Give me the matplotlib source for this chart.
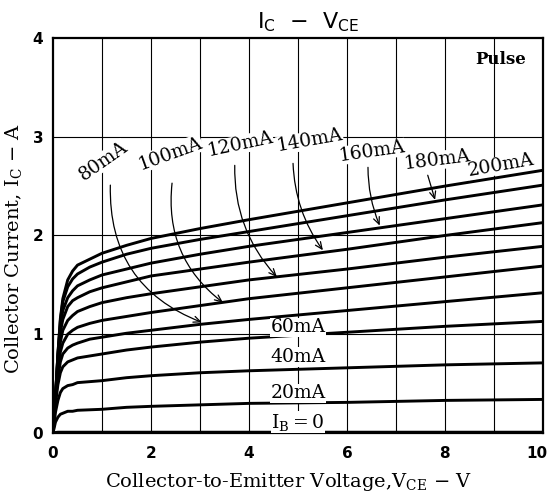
import matplotlib
matplotlib.use("Agg")
import matplotlib.pyplot as plt
import matplotlib.transforms as mtransforms

plt.rcParams['mathtext.fontset'] = 'dejavuserif'

# ---------------- data ----------------
vce = [0, 0.05, 0.1, 0.15, 0.2, 0.3, 0.4, 0.5, 0.75, 1, 1.5, 2, 3, 4, 6, 8, 10]

ic_200 = [0, 0.35, 0.80, 1.16, 1.36, 1.55, 1.64, 1.70, 1.76, 1.82, 1.90, 1.97, 2.07, 2.16, 2.33, 2.50, 2.66]
ic_180 = [0, 0.37, 0.80, 1.14, 1.33, 1.48, 1.56, 1.61, 1.68, 1.73, 1.81, 1.87, 1.96, 2.04, 2.20, 2.36, 2.51]
ic_160 = [0, 0.37, 0.79, 1.08, 1.24, 1.37, 1.44, 1.49, 1.55, 1.60, 1.66, 1.72, 1.81, 1.89, 2.03, 2.17, 2.31]
ic_140 = [0, 0.37, 0.75, 1.02, 1.15, 1.28, 1.34, 1.37, 1.43, 1.47, 1.53, 1.59, 1.66, 1.73, 1.86, 2.00, 2.13]
ic_120 = [0, 0.36, 0.70, 0.92, 1.04, 1.14, 1.19, 1.23, 1.28, 1.32, 1.37, 1.41, 1.48, 1.55, 1.66, 1.78, 1.89]
ic_100 = [0, 0.34, 0.63, 0.82, 0.91, 1.00, 1.04, 1.07, 1.11, 1.14, 1.18, 1.22, 1.29, 1.36, 1.47, 1.58, 1.69]
ic_80 = [0, 0.32, 0.56, 0.72, 0.80, 0.86, 0.89, 0.91, 0.95, 0.97, 1.01, 1.04, 1.10, 1.15, 1.24, 1.33, 1.42]
ic_60 = [0, 0.30, 0.49, 0.61, 0.67, 0.72, 0.74, 0.76, 0.78, 0.80, 0.84, 0.87, 0.92, 0.96, 1.02, 1.08, 1.13]
ic_40 = [0, 0.21, 0.33, 0.41, 0.45, 0.48, 0.49, 0.51, 0.52, 0.53, 0.56, 0.58, 0.61, 0.63, 0.66, 0.69, 0.71]
ic_20 = [0, 0.11, 0.16, 0.19, 0.20, 0.22, 0.22, 0.23, 0.235, 0.24, 0.26, 0.27, 0.285, 0.30, 0.31, 0.33, 0.34]
ic_0 = [0, 0.005, 0.008, 0.008, 0.008, 0.008, 0.008, 0.008, 0.008, 0.008, 0.008, 0.008, 0.008, 0.008, 0.008, 0.008, 0.008]

curves = [ic_0, ic_20, ic_40, ic_60, ic_80, ic_100, ic_120, ic_140, ic_160, ic_180, ic_200]

# labels with arrows
arrow_labels = ["80mA", "100mA", "120mA", "140mA", "160mA", "180mA"]
arrow_label_v = [1.02, 2.39, 3.82, 5.24, 6.51, 7.84]
arrow_label_ic = [2.75, 2.83, 2.92, 2.96, 2.85, 2.76]
arrow_label_rot = [35, 20, 12, 10, 8, 7]
arrow_start_v = [1.17, 2.43, 3.71, 4.90, 6.43, 7.65]
arrow_start_ic = [2.51, 2.53, 2.71, 2.73, 2.69, 2.61]
arrow_end_v = [3.04, 3.47, 4.57, 5.51, 6.67, 7.80]
arrow_end_ic = [1.12, 1.32, 1.58, 1.85, 2.10, 2.36]
arrow_rad = [0.35, 0.28, 0.2, 0.15, 0.1, 0.0]

top_label = "200mA"
top_label_pos = (9.14, 2.71)
top_label_rot = 10

inline_labels = ["60mA", "40mA", "20mA", r"I$_{\rm B}$$=$0"]
inline_v = [5.0, 5.0, 5.0, 5.0]
inline_ic = [1.07, 0.77, 0.40, 0.11]

x_ticks = [0, 2, 4, 6, 8, 10]
y_ticks = [0, 1, 2, 3, 4]

# ---------------- figure ----------------
fig = plt.figure(figsize=(5.5, 4.93), dpi=100)
ax = fig.add_axes([0.0964, 0.1217, 0.8906, 0.8013])

ax.set_xlim(0, 10)
ax.set_ylim(0, 4)

# grid every 1 V and 1 A
for v in range(1, 10):
    ax.axvline(v, color='black', lw=0.8, zorder=1)
for i in range(1, 4):
    ax.axhline(i, color='black', lw=0.8, zorder=1)

for c in curves:
    ax.plot(vce, c, color='black', lw=2.1, solid_capstyle='round', solid_joinstyle='round', zorder=3)

serif = 'DejaVu Serif'
lab_fs = 13.5

for t, x, y, r in zip(arrow_labels, arrow_label_v, arrow_label_ic, arrow_label_rot):
    ax.text(x, y, t, rotation=r, rotation_mode='anchor', ha='center', va='center',
            fontsize=lab_fs, family=serif, zorder=5,
            bbox=dict(fc='white', ec='none', pad=0.2))
ax.text(top_label_pos[0], top_label_pos[1], top_label, rotation=top_label_rot,
        rotation_mode='anchor', ha='center', va='center', fontsize=lab_fs, family=serif,
        zorder=5, bbox=dict(fc='white', ec='none', pad=0.2))

for sv, si, ev, ei, rd in zip(arrow_start_v, arrow_start_ic, arrow_end_v, arrow_end_ic, arrow_rad):
    ax.annotate('', xy=(ev, ei), xytext=(sv, si),
                arrowprops=dict(arrowstyle='->,head_length=0.5,head_width=0.22',
                                connectionstyle=f'arc3,rad={rd}', lw=0.9, color='black',
                                shrinkA=0, shrinkB=0), zorder=4)

for t, x, y in zip(inline_labels, inline_v, inline_ic):
    ax.text(x, y, t, ha='center', va='center', fontsize=lab_fs, family=serif, zorder=5,
            bbox=dict(fc='white', ec='none', pad=0.4))

ax.text(9.65, 3.78, "Pulse", ha='right', va='center', fontsize=12, family=serif,
        fontweight='bold', zorder=5)

ax.set_xticks(x_ticks)
ax.set_yticks(y_ticks)
ax.set_xticklabels([str(t) for t in x_ticks], fontsize=11, fontweight='bold')
ax.set_yticklabels([str(t) for t in y_ticks], fontsize=11, fontweight='bold')
ax.tick_params(length=0, pad=7)
ax.tick_params(axis='x', pad=9)

# keep the last x tick label inside the figure
last = ax.get_xticklabels()[-1]
last.set_transform(last.get_transform() +
                   mtransforms.ScaledTranslation(-6 / 100, 0, fig.dpi_scale_trans))

for s in ax.spines.values():
    s.set_linewidth(1.6)

ax.set_xlabel(r"Collector-to-Emitter Voltage,V$_{\rm CE}$ $-$ V", family=serif, fontsize=14)
ax.xaxis.set_label_coords(0.48, -0.095)
ax.set_ylabel(r"Collector Current, I$_{\rm C}$ $-$ A", family=serif, fontsize=14)
ax.yaxis.set_label_coords(-0.060, 0.468)

fig.text(0.56, 0.955, r"I$_{\mathsf{C}}$  $-$  V$_{\mathsf{CE}}$", ha='center', va='center',
         fontsize=16, family='DejaVu Sans', math_fontfamily='dejavusans')

fig.savefig("out.png", dpi=100)
